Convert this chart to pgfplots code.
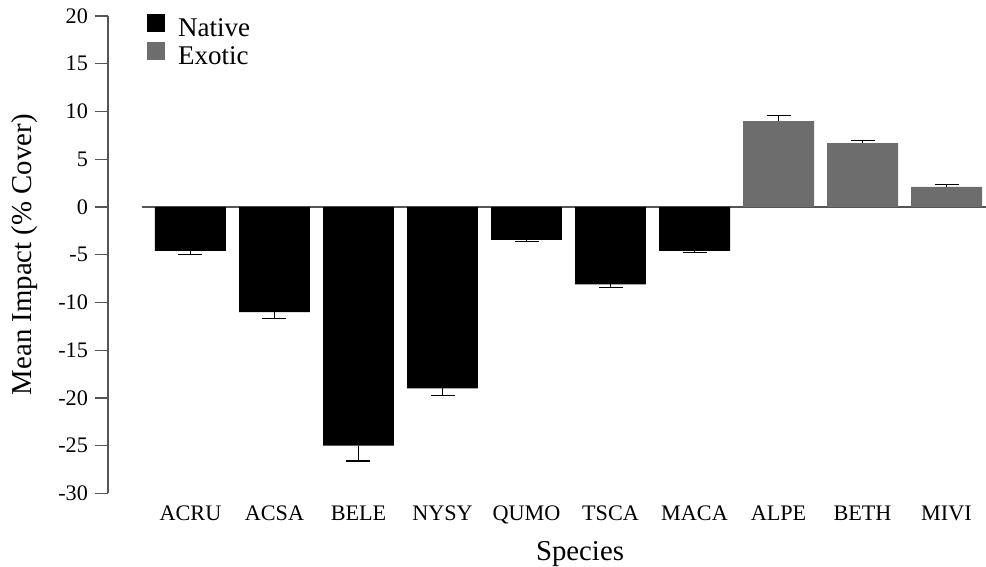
\documentclass[border=0pt]{standalone}
\usepackage{fontspec}
\setmainfont{Liberation Serif}
\usepackage{pgfplots}
\pgfplotsset{compat=1.18}
\definecolor{exo}{RGB}{109,109,109}
\definecolor{axgray}{RGB}{85,85,85}
\begin{document}
\begin{tikzpicture}
\begin{axis}[
  scale only axis, width=439pt, height=238.75pt,
  at={(0,0)}, anchor=south west,
  xmin=-0.982, xmax=9.47, ymin=-30, ymax=20,
  axis lines*=left,
  x axis line style={draw=none},
  y axis line style={axgray, line width=0.6pt},
  ytick={-30,-25,...,20},
  yticklabels={-30,-25,-20,-15,-10,-5,0,5,10,15,20},
  ytick style={axgray, line width=0.6pt},
  tick align=outside, major tick length=6.5pt,
  xtick={0,...,9},
  xticklabels={ACRU,ACSA,BELE,NYSY,QUMO,TSCA,MACA,ALPE,BETH,MIVI},
  xtick style={draw=none},
  tick label style={font=\fontsize{11.1}{12}\selectfont},
  xticklabel style={yshift=4pt},
  xlabel={Species}, ylabel={Mean Impact (\% Cover)},
  label style={font=\fontsize{14.4}{16}\selectfont},
  xlabel style={xshift=16.5pt, yshift=-2pt},
  ylabel style={yshift=3.5pt},
  clip=false,
  legend style={at={(rel axis cs:0.044,1.004)}, anchor=north west, draw=none, fill=none,
    font=\fontsize{13.5}{14}\selectfont, row sep=-1pt, inner sep=0pt},
  legend cell align=left,
]
\addplot[axgray, line width=0.6pt, forget plot] coordinates {(-0.577,0) (9.47,0)};
\addplot[ybar, bar width=0.845, bar shift=0pt, fill=black, draw=none,
  legend image code/.code={\fill[black] (0pt,-1.5pt) rectangle (9pt,7.5pt); \path (13.5pt,0pt);},
  error bars/.cd, y dir=minus, y explicit,
  error bar style={black, line width=0.6pt},
  error mark options={rotate=90, mark size=6pt, line width=0.6pt, black}]
  coordinates {
  (0,-4.6) -= (0,0.4)
  (1,-11.0) -= (0,0.7)
  (2,-25.0) -= (0,1.6)
  (3,-19.0) -= (0,0.7)
  (4,-3.45) -= (0,0.15)
  (5,-8.1) -= (0,0.3)
  (6,-4.6) -= (0,0.2)
  };
\addlegendentry{Native}
\addplot[ybar, bar width=0.845, bar shift=0pt, fill=exo, draw=none,
  legend image code/.code={\fill[exo] (0pt,-1.5pt) rectangle (9pt,7.5pt); \path (13.5pt,0pt);},
  error bars/.cd, y dir=plus, y explicit,
  error bar style={black, line width=0.6pt},
  error mark options={rotate=90, mark size=6pt, line width=0.6pt, black}]
  coordinates {
  (7,9.0) += (0,0.6)
  (8,6.7) += (0,0.25)
  (9,2.1) += (0,0.25)
  };
\addlegendentry{Exotic}
\end{axis}
\pgfresetboundingbox
\path[use as bounding box] (-54pt,-36.75pt) rectangle (439pt,246.75pt);
\end{tikzpicture}
\end{document}
